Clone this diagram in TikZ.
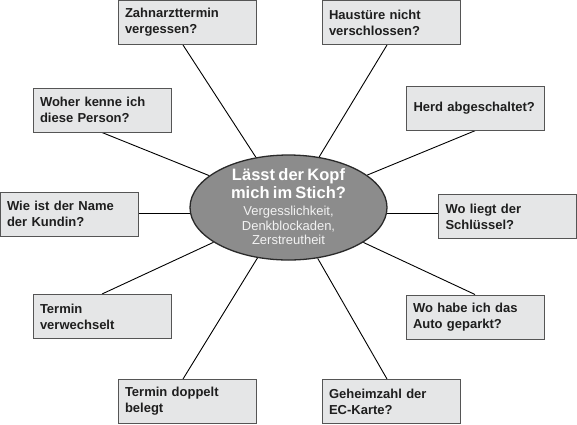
\documentclass[tikz,border=0pt]{standalone}
\usepackage{fontspec}
\setmainfont{Liberation Sans}
\usetikzlibrary{shapes.geometric,backgrounds}
\definecolor{boxfill}{HTML}{E5E6E7}
\definecolor{boxline}{HTML}{555555}
\definecolor{ellfill}{HTML}{8C8C8C}
\definecolor{ellline}{HTML}{2A2A2A}
\definecolor{boxtext}{HTML}{1E1E1E}
\definecolor{subtext}{HTML}{F2F2F2}
\tikzset{
  qbox/.style={draw=boxline, line width=1pt, fill=boxfill, rectangle,
    text width=124pt, inner xsep=7pt, inner ysep=0pt, minimum width=138pt,
    minimum height=44pt, align=left, text=boxtext,
    font=\fontsize{13}{16}\selectfont\bfseries},
  link/.style={draw=black, line width=0.9pt},
}
\begin{document}
\begin{tikzpicture}[x=1pt,y=-1pt]
\useasboundingbox (0,0) rectangle (577,424);
\node[ellipse, draw=ellline, line width=1.3pt, fill=ellfill,
  minimum width=197pt, minimum height=105pt, inner sep=0pt] (ell) at (288.5,207.5) {};
\node[text width=180pt, align=center, inner sep=0pt] (elltext) at (288.5,206.5)
  {{\fontsize{16.5}{18}\selectfont\bfseries\color{white}Lässt der Kopf\\mich im Stich?\par}
   \vspace{3.3pt}
   {\fontsize{13}{14.5}\selectfont\color{subtext}Vergesslichkeit,\\Denkblockaden,\\Zerstreutheit\par}};

\node[qbox] (zahn) at (187,22.5) {Zahnarzttermin\\vergessen?};
\node[qbox] (haus) at (391,22.5) {Haustüre nicht\\verschlossen?};
\node[qbox] (woher) at (102,110) {Woher kenne ich\\diese Person?};
\node[qbox] (herd) at (475.5,108) {Herd abgeschaltet?};
\node[qbox] (wie) at (69,214) {Wie ist der Name\\der Kundin?};
\node[qbox] (woliegt) at (507.5,216.5) {Wo liegt der\\Schlüssel?};
\node[qbox] (verw) at (102,316.5) {Termin\\verwechselt};
\node[qbox] (wohabe) at (475,317) {Wo habe ich das\\Auto geparkt?};
\node[qbox] (doppelt) at (187,401.5) {Termin doppelt\\belegt};
\node[qbox] (geheim) at (391,401.5) {Geheimzahl der\\EC-Karte?};

\begin{scope}[on background layer]
\draw[link] ([xshift=-4pt]zahn.south) -- (ell);
\draw[link] ([xshift=-4pt]haus.south) -- (ell);
\draw[link] (woher.south) -- (ell);
\draw[link] (herd.south) -- (ell);
\draw[link] ([yshift=1pt]wie.east) -- ([yshift=1pt]wie.east -| ell.center);
\draw[link] ([yshift=3.5pt]woliegt.west) -- ([yshift=3.5pt]woliegt.west -| ell.center);
\draw[link] (verw.north) -- (ell);
\draw[link] (wohabe.north) -- (ell);
\draw[link] ([xshift=-4pt]doppelt.north) -- (ell);
\draw[link] ([xshift=-4pt]geheim.north) -- (ell);
\end{scope}
\end{tikzpicture}
\end{document}
